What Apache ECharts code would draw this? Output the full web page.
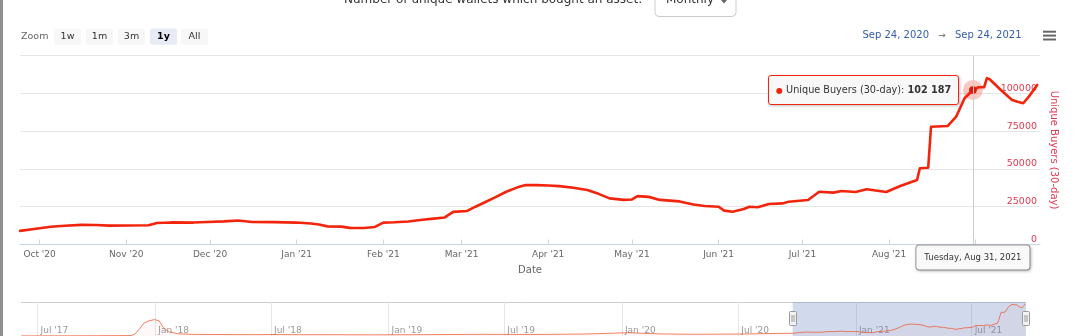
<!DOCTYPE html>
<html><head><meta charset="utf-8">
<script src="https://cdn.jsdelivr.net/npm/echarts@6/dist/echarts.min.js"></script>
<style>html,body{margin:0;padding:0;background:#fff;overflow:hidden}#c{width:1080px;height:336px}</style>
</head><body><div id="c"></div>
<script>
// ---------- data ----------
const buyerDates = ['2020-09-24','2020-09-29','2020-10-05','2020-10-10','2020-10-16','2020-10-21','2020-10-26','2020-11-09','2020-11-12','2020-11-17','2020-11-25','2020-11-30','2020-12-06','2020-12-11','2020-12-16','2020-12-24','2021-01-01','2021-01-06','2021-01-09','2021-01-12','2021-01-17','2021-01-20','2021-01-25','2021-01-29','2021-02-01','2021-02-05','2021-02-10','2021-02-15','2021-02-19','2021-02-23','2021-02-26','2021-03-03','2021-03-06','2021-03-09','2021-03-13','2021-03-17','2021-03-21','2021-03-24','2021-03-28','2021-04-01','2021-04-05','2021-04-10','2021-04-15','2021-04-19','2021-04-23','2021-04-28','2021-05-01','2021-05-03','2021-05-07','2021-05-11','2021-05-18','2021-05-23','2021-05-27','2021-06-01','2021-06-03','2021-06-06','2021-06-10','2021-06-12','2021-06-15','2021-06-19','2021-06-24','2021-06-26','2021-07-03','2021-07-07','2021-07-12','2021-07-15','2021-07-20','2021-07-24','2021-07-31','2021-08-05','2021-08-10','2021-08-11','2021-08-12','2021-08-15','2021-08-16','2021-08-22','2021-08-25','2021-08-28','2021-08-31','2021-09-02','2021-09-04','2021-09-05','2021-09-06','2021-09-10','2021-09-14','2021-09-16','2021-09-18','2021-09-20','2021-09-23'];
const buyerCounts = [9000,10200,11700,12400,13000,12900,12500,12700,14200,14600,14500,14900,15300,15900,14900,14800,14500,13900,13200,12000,11800,11000,10900,11600,14500,14700,15200,16400,17100,17900,21600,22200,25000,27600,31200,34900,37800,39300,39300,39000,38600,37500,36000,33500,30500,29500,29800,32000,31500,29500,28500,26500,25500,25000,22400,21700,23500,25000,24600,26800,27200,28300,29400,34900,34300,35400,34700,36500,34700,38700,42000,42700,50400,50800,77900,78400,84500,96700,102187,104000,104000,110000,109300,102200,95600,94400,93400,97800,105500];

const historyDates = ['2017-06-05','2017-07-01','2017-08-01','2017-09-01','2017-10-01','2017-11-01','2017-11-25','2017-12-01','2017-12-08','2017-12-14','2017-12-22','2017-12-31','2018-01-07','2018-01-14','2018-01-22','2018-02-07','2018-03-01','2018-04-01','2018-05-01','2018-06-01','2018-07-01','2018-08-01','2018-09-01','2018-10-01','2018-11-01','2018-12-01','2019-01-01','2019-02-01','2019-03-01','2019-04-01','2019-05-01','2019-06-01','2019-07-01','2019-08-01','2019-09-01','2019-10-01','2019-11-01','2019-12-01','2020-01-10','2020-02-01','2020-03-01','2020-04-01','2020-05-01','2020-06-01','2020-07-01','2020-08-01','2020-09-01'];
const historyCounts = [300,500,600,700,900,1200,1500,8000,25000,42000,50000,54000,50000,27000,14000,7000,5500,5000,4600,4500,4800,4500,4200,4300,4100,3900,4000,4200,4500,4800,5200,5500,5300,5000,5200,5800,6500,8000,11000,9000,7000,6000,5800,6000,6500,7500,8500];

const monthTicks = ['2020-10-01','2020-11-01','2020-12-01','2021-01-01','2021-02-01','2021-03-01','2021-04-01','2021-05-01','2021-06-01','2021-07-01','2021-08-01','2021-09-01'];
const navTicks = ['2017-07-01','2018-01-01','2018-07-01','2019-01-01','2019-07-01','2020-01-01','2020-07-01','2021-01-01','2021-07-01'];
const zoomButtons = ['1w','1m','3m','1y','All'];
const selectedButton = '1y';
const highlightDate = '2021-08-31';
const rangeStart = '2020-09-24';
const rangeEnd = '2021-09-24';
const navStart = '2017-06-05';
const seriesName = 'Unique Buyers (30-day)';
const titleText = 'Number of unique wallets which bought an asset:';
const periodText = 'Monthly';

// ---------- helpers ----------
const ts = s => Date.parse(s + 'T00:00:00Z');
const MON = ['Jan','Feb','Mar','Apr','May','Jun','Jul','Aug','Sep','Oct','Nov','Dec'];
const DAYS = ['Sunday','Monday','Tuesday','Wednesday','Thursday','Friday','Saturday'];
const fmtMonth = v => { const d = new Date(Number(v)); return MON[d.getUTCMonth()] + " '" + String(d.getUTCFullYear()).slice(2); };
const fmtLong = v => { const d = new Date(Number(v)); return DAYS[d.getUTCDay()] + ', ' + MON[d.getUTCMonth()] + ' ' + d.getUTCDate() + ', ' + d.getUTCFullYear(); };
const fmtShort = v => { const d = new Date(Number(v)); return MON[d.getUTCMonth()] + ' ' + d.getUTCDate() + ', ' + d.getUTCFullYear(); };
const fmtNum = n => String(n).replace(/\B(?=(\d{3})+(?!\d))/g, ' ');

const RED = '#f2250c';
const LABEL_RED = '#e03a50';
const FONT = 'DejaVu Sans';

const mainData = buyerDates.map((d, i) => [ts(d), buyerCounts[i]]);
const navData = historyDates.map((d, i) => [ts(d), historyCounts[i]]).concat(mainData);
const hiIdx = buyerDates.indexOf(highlightDate);

const chart = echarts.init(document.getElementById('c'), null, {renderer: 'canvas'});

const option = {
  animation: false,
  textStyle: {fontFamily: FONT},
  grid: [
    {left: 20, right: 40, top: 55.5, height: 189, containLabel: false, outerBoundsMode: 'none'},
    {left: 21, right: 54, top: 302, height: 34, containLabel: false, outerBoundsMode: 'none'}
  ],
  xAxis: [
    {
      type: 'value', gridIndex: 0, min: ts(rangeStart), max: ts(rangeEnd),
      name: 'Date', nameLocation: 'middle', nameGap: 21,
      nameTextStyle: {color: '#666', fontSize: 10, fontFamily: FONT},
      axisLine: {show: true, lineStyle: {color: '#ccd6eb', width: 1}},
      axisTick: {show: true, inside: true, length: 5, lineStyle: {color: '#ccd6eb'}, customValues: monthTicks.map(ts)},
      axisLabel: {color: '#666', fontSize: 9, margin: 6, fontFamily: FONT, customValues: monthTicks.map(ts), formatter: v => fmtMonth(v), hideOverlap: false, showMinLabel: true, showMaxLabel: true},
      splitLine: {show: false},
      axisPointer: {
        show: true, type: 'line', snap: true, triggerTooltip: true,
        lineStyle: {color: '#cccccc', width: 1, type: 'solid'},
        label: {show: true, formatter: p => fmtLong(p.value), backgroundColor: '#f9f9f9', borderColor: '#999', borderWidth: 1,
          color: '#333', fontSize: 8.5, fontFamily: FONT, padding: [8, 8, 7, 8], margin: 1,
          shadowBlur: 3, shadowColor: 'rgba(0,0,0,0.2)', shadowOffsetX: 1, shadowOffsetY: 1}
      }
    },
    {
      type: 'value', gridIndex: 1, min: ts(navStart), max: ts(rangeEnd),
      axisLine: {show: false},
      axisTick: {show: false, customValues: navTicks.map(ts)},
      axisLabel: {inside: true, customValues: navTicks.map(ts), formatter: v => fmtMonth(v), color: '#999', fontSize: 9, fontFamily: FONT, align: 'left', margin: 1, padding: [0, 0, 0, 3], hideOverlap: false},
      splitLine: {show: true, lineStyle: {color: '#e6e6e6'}},
      axisPointer: {show: false}
    }
  ],
  yAxis: [
    {
      type: 'value', gridIndex: 0, position: 'right', min: 0, max: 125000, interval: 25000,
      name: seriesName, nameLocation: 'middle', nameRotate: -90, nameGap: 2,
      nameTextStyle: {color: LABEL_RED, fontSize: 10, fontFamily: FONT},
      axisLine: {show: false}, axisTick: {show: false},
      axisLabel: {inside: true, color: LABEL_RED, fontSize: 9.5, fontFamily: FONT, margin: 3, verticalAlign: 'bottom', showMaxLabel: false, formatter: v => String(v)},
      splitLine: {show: true, lineStyle: {color: '#e6e6e6'}},
      axisPointer: {show: false}
    },
    {
      type: 'value', gridIndex: 1, min: 0, max: 112000, interval: 112000,
      axisLine: {show: false}, axisTick: {show: false}, axisLabel: {show: false},
      splitLine: {show: true, lineStyle: {color: '#cccccc'}},
      axisPointer: {show: false}
    }
  ],
  tooltip: {
    trigger: 'axis', triggerOn: 'none', alwaysShowContent: true, transitionDuration: 0, showDelay: 0,
    backgroundColor: 'rgba(247,247,247,0.92)', borderColor: RED, borderWidth: 1, padding: [6, 7],
    textStyle: {color: '#333', fontSize: 9.7, fontFamily: FONT},
    extraCssText: 'border-radius:3px;box-shadow:1px 1px 3px rgba(0,0,0,0.25);line-height:15px;white-space:nowrap;',
    axisPointer: {type: 'line', lineStyle: {color: '#cccccc', type: 'solid', width: 1}},
    position: function (pt, params, dom, rect, size) {
      const p = chart.convertToPixel({seriesIndex: 0}, mainData[hiIdx]);
      return [p[0] - size.contentSize[0] - 14, p[1] - size.contentSize[1] / 2];
    },
    formatter: function (params) {
      const arr = Array.isArray(params) ? params : [params];
      const p = arr.find(q => q.seriesIndex === 0) || arr[0];
      return '<span style="color:' + RED + ';font-size:8px">\u25CF</span> ' + seriesName + ': <b>' + fmtNum(p.value[1]) + '</b>';
    }
  },
  series: [
    {
      type: 'line', name: seriesName, xAxisIndex: 0, yAxisIndex: 0, data: mainData,
      showSymbol: false, symbol: 'circle', symbolSize: 7,
      lineStyle: {color: RED, width: 2.6, cap: 'round', join: 'round'}, itemStyle: {color: RED},
      emphasis: {disabled: true}, z: 3,
      markPoint: {
        silent: true, symbol: 'circle', label: {show: false}, animation: false,
        data: [
          {coord: mainData[hiIdx], symbolSize: 20, itemStyle: {color: 'rgba(242,37,12,0.25)'}},
          {coord: mainData[hiIdx], symbolSize: 7, itemStyle: {color: '#e01a0a'}}
        ]
      }
    },
    {
      type: 'line', xAxisIndex: 1, yAxisIndex: 1, data: navData, showSymbol: false, silent: true,
      lineStyle: {color: 'rgba(240,85,45,0.75)', width: 1}, areaStyle: {color: 'rgba(240,85,45,0.05)'},
      emphasis: {disabled: true}, tooltip: {show: false},
      markArea: {silent: true, itemStyle: {color: 'rgba(102,133,194,0.3)'}, label: {show: false},
        data: [[{xAxis: ts(rangeStart)}, {xAxis: ts(rangeEnd)}]]}
    }
  ]
};
chart.setOption(option);

// ---------- UI decorations (range selector, title, navigator handles) ----------
function buildGraphic(h1, h2) {
  const g = [];
  g.push({type: 'rect', shape: {x: 0, y: 0, width: 3, height: 336}, style: {fill: '#8f8f8f'}, silent: true});
  g.push({type: 'text', x: 344, y: 0, style: {text: titleText, fill: '#333', font: '12px "' + FONT + '"', verticalAlign: 'middle', align: 'left'}, silent: true});
  g.push({type: 'rect', shape: {x: 655, y: -12, width: 81, height: 28.5, r: 4}, style: {fill: '#fff', stroke: '#cccccc', lineWidth: 1}, silent: true});
  g.push({type: 'text', x: 666, y: 0, style: {text: periodText, fill: '#333', font: '12px "' + FONT + '"', verticalAlign: 'middle', align: 'left'}, silent: true});
  g.push({type: 'polygon', shape: {points: [[721, 0], [727, 0], [724, 3.5]]}, style: {fill: '#666'}, silent: true});
  g.push({type: 'text', x: 21, y: 36.7, style: {text: 'Zoom', fill: '#666', font: '9.5px "' + FONT + '"', verticalAlign: 'middle', align: 'left'}, silent: true});
  const bx = [54, 86, 118, 150, 181];
  zoomButtons.forEach((b, i) => {
    const sel = b === selectedButton;
    g.push({type: 'rect', shape: {x: bx[i], y: 28.6, width: 27, height: 16.2, r: 2}, style: {fill: sel ? '#e6ebf5' : '#f7f7f7'}, silent: true});
    g.push({type: 'text', x: bx[i] + 13.5, y: 36.9, style: {text: b, fill: sel ? '#000' : '#333', font: (sel ? 'bold ' : '') + '9.5px "' + FONT + '"', verticalAlign: 'middle', align: 'center'}, silent: true});
  });
  g.push({type: 'text', x: 929, y: 35.5, style: {text: fmtShort(ts(rangeStart)), fill: '#335cad', font: '10px "' + FONT + '"', verticalAlign: 'middle', align: 'right'}, silent: true});
  g.push({type: 'text', x: 942, y: 35.5, style: {text: '\u2192', fill: '#666', font: '9px "' + FONT + '"', verticalAlign: 'middle', align: 'center'}, silent: true});
  g.push({type: 'text', x: 955, y: 35.5, style: {text: fmtShort(ts(rangeEnd)), fill: '#335cad', font: '10px "' + FONT + '"', verticalAlign: 'middle', align: 'left'}, silent: true});
  [31.7, 35.6, 39.5].forEach(y => g.push({type: 'rect', shape: {x: 1043, y: y - 1, width: 13, height: 2}, style: {fill: '#666'}, silent: true}));
  [h1, h2].forEach(x => {
    g.push({type: 'rect', shape: {x: Math.round(x) - 3.5, y: 311.5, width: 7, height: 14, r: 1}, style: {fill: '#f2f2f2', stroke: '#999', lineWidth: 1}, silent: true, z: 10});
    g.push({type: 'line', shape: {x1: Math.round(x) - 1, y1: 315, x2: Math.round(x) - 1, y2: 322}, style: {stroke: '#999', lineWidth: 1}, silent: true, z: 11});
    g.push({type: 'line', shape: {x1: Math.round(x) + 1, y1: 315, x2: Math.round(x) + 1, y2: 322}, style: {stroke: '#999', lineWidth: 1}, silent: true, z: 11});
  });
  return g;
}
const h1 = chart.convertToPixel({xAxisIndex: 1}, ts(rangeStart));
const h2 = chart.convertToPixel({xAxisIndex: 1}, ts(rangeEnd));
chart.setOption({graphic: buildGraphic(h1, h2)});
chart.dispatchAction({type: 'showTip', seriesIndex: 0, dataIndex: hiIdx});
</script>
</body></html>
